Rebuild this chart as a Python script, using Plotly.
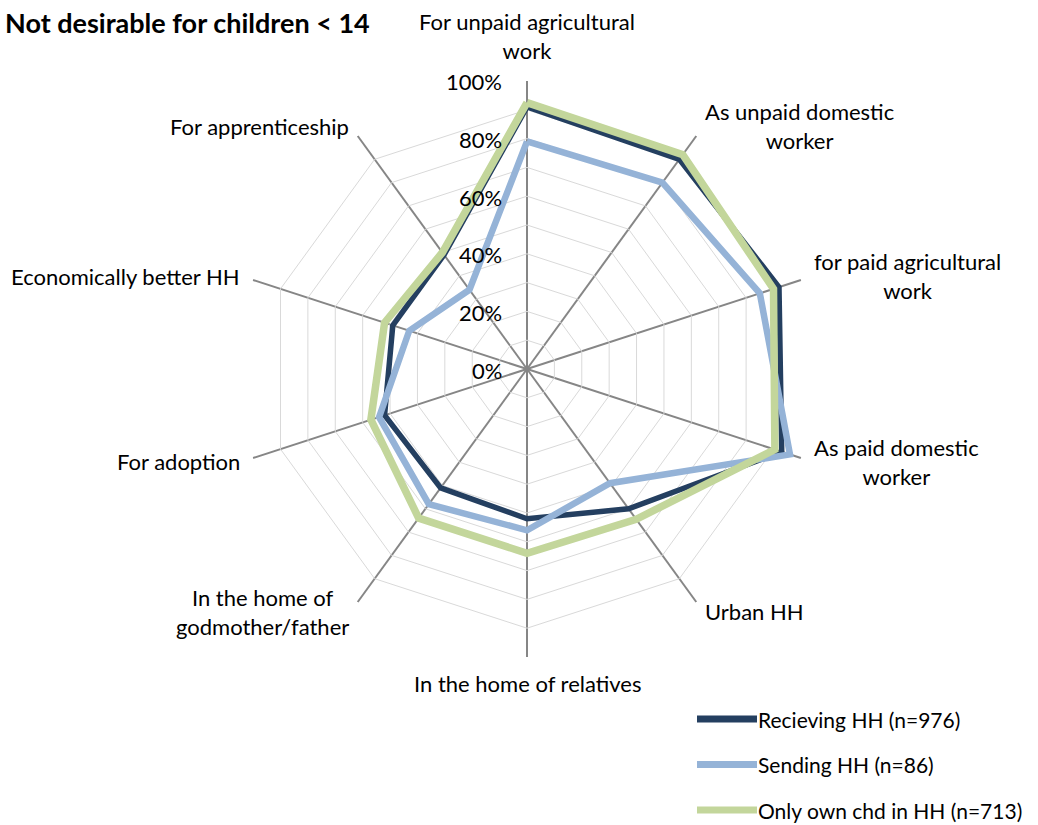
import math
import plotly.graph_objects as go

categories = [
    "For unpaid agricultural<br>work",
    "As unpaid domestic<br>worker",
    "for paid agricultural<br>work",
    "As paid domestic<br>worker",
    "Urban HH",
    "In the home of relatives",
    "In the home of<br>godmother/father",
    "For adoption",
    "Economically better HH",
    "For apprenticeship",
]

receiving = [0.91, 0.90, 0.92, 0.93, 0.60, 0.52, 0.51, 0.52, 0.49, 0.49]
sending = [0.79, 0.80, 0.85, 0.96, 0.49, 0.56, 0.58, 0.54, 0.43, 0.34]
own_only = [0.925, 0.92, 0.90, 0.905, 0.645, 0.64, 0.64, 0.57, 0.52, 0.50]

series_names = ["Recieving HH (n=976)", "Sending HH (n=86)", "Only own chd in HH (n=713)"]
radial_ticks = [0.0, 0.1, 0.2, 0.3, 0.4, 0.5, 0.6, 0.7, 0.8, 0.9, 1.0]
radial_labels = ["0%", "", "20%", "", "40%", "", "60%", "", "80%", "", "100%"]

FONT = "Lato"
W, H = 1038, 825
CX, CY, R = 527, 369, 288  # plot centre and outer radius in pixels
LABEL_SIZE = 22

series = [
    (receiving, "#243F60", 5.5),
    (sending, "#95B3D7", 6.5),
    (own_only, "#C3D69B", 7.5),
]

fig = go.Figure()
for (vals, color, width), name in zip(series, series_names):
    fig.add_trace(go.Scatterpolar(
        r=vals + vals[:1],
        theta=categories + categories[:1],
        mode="lines",
        name=name,
        showlegend=False,
        line=dict(color=color, width=width),
        hoverinfo="skip",
    ))


def px(x, y):
    return x / W, 1 - y / H


annotations = []
shapes = []

# category labels around the decagon
n = len(categories)
for i, cat in enumerate(categories):
    ang = 2 * math.pi * i / n
    s, c = math.sin(ang), math.cos(ang)
    vx, vy = CX + R * s, CY - R * c
    if abs(s) < 0.1:
        xa, x = "center", vx
        if c > 0:
            y, ya = vy - 15, "bottom"
        else:
            y, ya = vy + 11, "top"
    else:
        xa = "left" if s > 0 else "right"
        x = vx + 11.5 * s
        y = vy - 12 * c
        ya = "middle"
    xx, yy = px(x, y)
    annotations.append(dict(
        x=xx, y=yy, xref="paper", yref="paper",
        text=cat, showarrow=False, xanchor=xa, yanchor=ya,
        align="center", font=dict(family=FONT, size=LABEL_SIZE, color="#000000"),
    ))

# radial percentage labels, to the left of the vertical axis
for v, lab in zip(radial_ticks, radial_labels):
    if not lab:
        continue
    xx, yy = px(CX - 23, CY - v * R + 1)
    annotations.append(dict(
        x=xx, y=yy, xref="paper", yref="paper", text=lab, showarrow=False,
        xanchor="right", yanchor="middle",
        font=dict(family=FONT, size=LABEL_SIZE, color="#000000"),
    ))

# title
xx, yy = px(3, 4)
annotations.append(dict(
    x=xx, y=yy, xref="paper", yref="paper",
    text="<b>Not desirable for children < 14</b>", showarrow=False,
    xanchor="left", yanchor="top",
    font=dict(family=FONT, size=27, color="#000000"),
))

# legend
for k, ((vals, color, width), name) in enumerate(zip(series, series_names)):
    ly = 719 + k * 45.5
    x0, y0 = px(697, ly)
    x1, _ = px(757, ly)
    shapes.append(dict(
        type="line", xref="paper", yref="paper", x0=x0, x1=x1, y0=y0, y1=y0,
        line=dict(color=color, width=7),
    ))
    tx, ty = px(757, ly)
    annotations.append(dict(
        x=tx, y=ty, xref="paper", yref="paper", text=name, showarrow=False,
        xanchor="left", yanchor="middle", borderpad=0,
        font=dict(family=FONT, size=21, color="#000000"),
    ))

fig.update_layout(
    width=W, height=H,
    margin=dict(l=0, r=0, t=0, b=0),
    paper_bgcolor="white",
    plot_bgcolor="white",
    font=dict(family=FONT, size=LABEL_SIZE, color="#000000"),
    annotations=annotations,
    shapes=shapes,
    showlegend=False,
    polar=dict(
        domain=dict(x=[(CX - R) / W, (CX + R) / W], y=[(H - CY - R) / H, (H - CY + R) / H]),
        bgcolor="white",
        gridshape="linear",
        angularaxis=dict(
            direction="clockwise", rotation=90,
            showticklabels=False, ticks="",
            showline=False,
            gridcolor="#868686", gridwidth=1.5,
        ),
        radialaxis=dict(
            range=[0, 1], angle=90,
            tickvals=radial_ticks,
            showticklabels=False, ticks="", showline=False,
            gridcolor="#D9D9D9", gridwidth=1,
        ),
    ),
)

fig.write_html("out.html")
